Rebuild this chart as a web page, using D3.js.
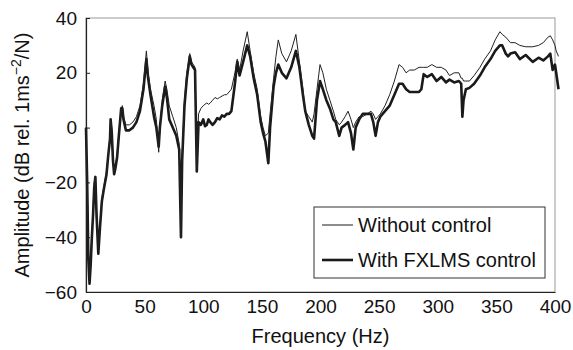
<!DOCTYPE html>
<html>
<head>
<meta charset="utf-8">
<script src="https://cdn.jsdelivr.net/npm/d3@7"></script>
<style>
  body { margin: 0; background: #fff; }
  text { font-family: "Liberation Sans", Arial, sans-serif; fill: #111; }
</style>
</head>
<body>
<div id="container"></div>
<script>
//Frequencies (Hz)
var freq = [0, 1, 2, 3, 4, 5, 6, 7, 8, 9, 10.5, 12, 13.5, 15, 17.5, 19, 20.5, 21, 22, 23,
  24, 25, 26.5, 28, 30, 31, 32, 34, 37, 40, 43, 46, 49, 51.5, 53, 55, 58, 60, 62, 63,
  65, 67.5, 69, 71, 74, 77, 79.5, 81, 82, 84, 86, 88.5, 90, 93, 94.5, 96, 98, 100, 101.5, 103,
  104.5, 106, 108, 110, 112, 114, 116, 118, 120, 122, 124, 127, 129, 131, 134, 137.5, 140, 143, 146, 149,
  151, 153, 155.5, 157, 160, 162, 164, 167, 171, 175, 179, 182, 185, 187, 190, 193, 194.5, 197, 199.6, 202,
  205, 208, 211, 213, 216, 218, 221, 223.5, 226, 228, 230, 233, 236, 240, 243, 245, 247, 249, 251, 255,
  259, 263, 267, 270, 273, 276, 280, 284, 286, 288, 291, 295, 299, 303, 307, 310, 314, 318, 320, 321,
  322, 324, 327, 331, 336, 340, 345, 349, 353, 355, 358, 360, 362, 366, 370, 375, 381, 386, 390, 394,
  396, 398, 400, 401, 403];

//Amplitude without control (dB)
var withoutCtrl = [0, -20, -45, -56, -48, -40, -30, -20, -18, -30, -44, -35, -26, -22, -16, -10, -3, 3, 0, -10,
  -16, -14, -10, -2, 7, 8, 4, 1, 1, 2, 4, 8, 16, 28, 20, 14, 8, 3, -9, 0,
  10, 17, 14, 8, 4, 0, -6, -40, -10, 10, 20, 27, 24, 22, -15, 5, 7, 8, 8.5, 9,
  8.5, 9, 10, 11, 10.5, 11, 11.5, 12, 12, 13, 14, 20, 25, 21, 28, 35, 28, 20, 14, 4,
  0, -3, -2, 5, 18, 26, 32, 27, 24, 28, 34, 24, 14, 6, 4, 2, 5, 14, 23, 20,
  14, 10, 6, 3, 1, 2, 4, 6, 3, 0, 2, 4, 4, 5, 6, 5, 3, 4, 5, 8,
  12, 17, 23, 22, 20, 21, 21, 22, 22, 22, 22, 23, 22, 22, 21, 19, 20, 20, 18, 18,
  17, 17, 17, 19, 22, 25, 28, 32, 35, 34, 33, 32, 31, 31, 30, 29.5, 29.5, 30, 31, 33,
  33.5, 32, 30, 28, 26];

//Amplitude with FXLMS control (dB)
var withFxlms = [0, -20, -48, -57, -50, -40, -32, -22, -18, -32, -46, -36, -27, -23, -17, -10, -4, 3, -2, -12,
  -17, -15, -11, -3, 7, 7, 3, -1, -1, 0, 2, 6, 14, 25, 18, 12, 4, 0, -7, 0,
  8, 15, 11, 3, 0, -3, -8, -40, -12, 8, 18, 26, 23, 21, -16, 2, 1, 3, 0.5, 1,
  3, 2, 1, 2, 3.5, 3, 4.5, 4, 5, 5, 6, 16, 24, 19, 24, 30, 26, 18, 12, 2,
  -2, -5, -13, 0, 15, 20, 23, 20, 18, 22, 28, 22, 12, 6, 1, -3, -4, 10, 17, 14,
  10, 7, 3, 2, -3, 0, 1, 2, -2, -8, 0, 3, 5, 5, 5, 2, -3, 2, 4, 6,
  8, 12, 16, 16, 14, 13, 13, 13, 14, 19.5, 18.5, 19.5, 17, 18.5, 16.5, 17.5, 16.5, 17, 16, 4,
  10, 14, 14.5, 16, 19, 22, 25, 28, 30, 30, 27, 26, 27, 27.5, 25, 26.5, 24, 25.5, 24.5, 26,
  27, 21, 23, 20, 14];

var seriesNames = ["Without control", "With FXLMS control"];
var xTicks = [0, 50, 100, 150, 200, 250, 300, 350, 400];
var yTicks = [-60, -40, -20, 0, 20, 40];

var width = 573, height = 350;
var margin = { top: 18, right: 18, bottom: 58, left: 86 };
var plotW = width - margin.left - margin.right,
    plotH = height - margin.top - margin.bottom;

var svg = d3.select("#container").append("svg")
    .attr("width", width)
    .attr("height", height);

var g = svg.append("g")
    .attr("transform", "translate(" + margin.left + "," + margin.top + ")");

var x = d3.scaleLinear().domain([0, 400]).range([0, plotW]);
var y = d3.scaleLinear().domain([-60, 40]).range([plotH, 0]);

//Frame: light top/right, dark left/bottom
g.append("rect")
    .attr("x", 0).attr("y", 0)
    .attr("width", plotW).attr("height", plotH)
    .attr("fill", "none")
    .attr("stroke", "#999")
    .attr("stroke-width", 1);

var yAxis = g.append("g")
    .call(d3.axisLeft(y).tickValues(yTicks).tickSizeInner(-4).tickSizeOuter(0).tickPadding(9)
        .tickFormat(function (d) { return d < 0 ? "\u2212" + Math.abs(d) : d; }));
var xAxis = g.append("g")
    .attr("transform", "translate(0," + plotH + ")")
    .call(d3.axisBottom(x).tickValues(xTicks).tickSize(0).tickPadding(8));

[yAxis, xAxis].forEach(function (a) {
    a.select(".domain").attr("stroke", "#222").attr("stroke-width", 1.2);
    a.selectAll(".tick line").attr("stroke", "#222");
    a.selectAll(".tick text")
        .style("font-family", "'Liberation Sans', Arial, sans-serif")
        .style("font-size", "19px")
        .attr("fill", "#111");
});

//Curves
var line = d3.line()
    .x(function (d) { return x(d[0]); })
    .y(function (d) { return y(d[1]); });

var thin = freq.map(function (f, i) { return [f, withoutCtrl[i]]; });
var thick = freq.map(function (f, i) { return [f, withFxlms[i]]; });

g.append("path")
    .attr("d", line(thick))
    .attr("fill", "none")
    .attr("stroke", "#1a1a1a")
    .attr("stroke-width", 2.6)
    .attr("stroke-linejoin", "round");

g.append("path")
    .attr("d", line(thin))
    .attr("fill", "none")
    .attr("stroke", "#222")
    .attr("stroke-width", 1)
    .attr("stroke-linejoin", "round");

//Axis titles
svg.append("text")
    .attr("x", margin.left + plotW / 2)
    .attr("y", 343)
    .attr("text-anchor", "middle")
    .style("font-size", "20px")
    .text("Frequency (Hz)");

var yt = svg.append("text")
    .attr("transform", "translate(29," + (margin.top + plotH / 2) + ") rotate(-90)")
    .attr("text-anchor", "middle")
    .style("font-size", "20px");
yt.append("tspan").text("Amplitude (dB rel. 1ms");
yt.append("tspan").attr("dy", -8).style("font-size", "14px").text("\u22122");
yt.append("tspan").attr("dy", 8).text("/N)");

//Legend
var leg = svg.append("g").attr("transform", "translate(314,207)");
leg.append("rect")
    .attr("width", 231).attr("height", 71)
    .attr("fill", "#fff")
    .attr("stroke", "#333")
    .attr("stroke-width", 1);

seriesNames.forEach(function (name, i) {
    var ly = 18 + i * 35;
    leg.append("line")
        .attr("x1", 8).attr("x2", 39)
        .attr("y1", ly).attr("y2", ly)
        .attr("stroke", "#1a1a1a")
        .attr("stroke-width", i === 0 ? 1 : 2.6);
    leg.append("text")
        .attr("x", 44).attr("y", ly + 7)
        .style("font-size", "20px")
        .text(name);
});
</script>
</body>
</html>
